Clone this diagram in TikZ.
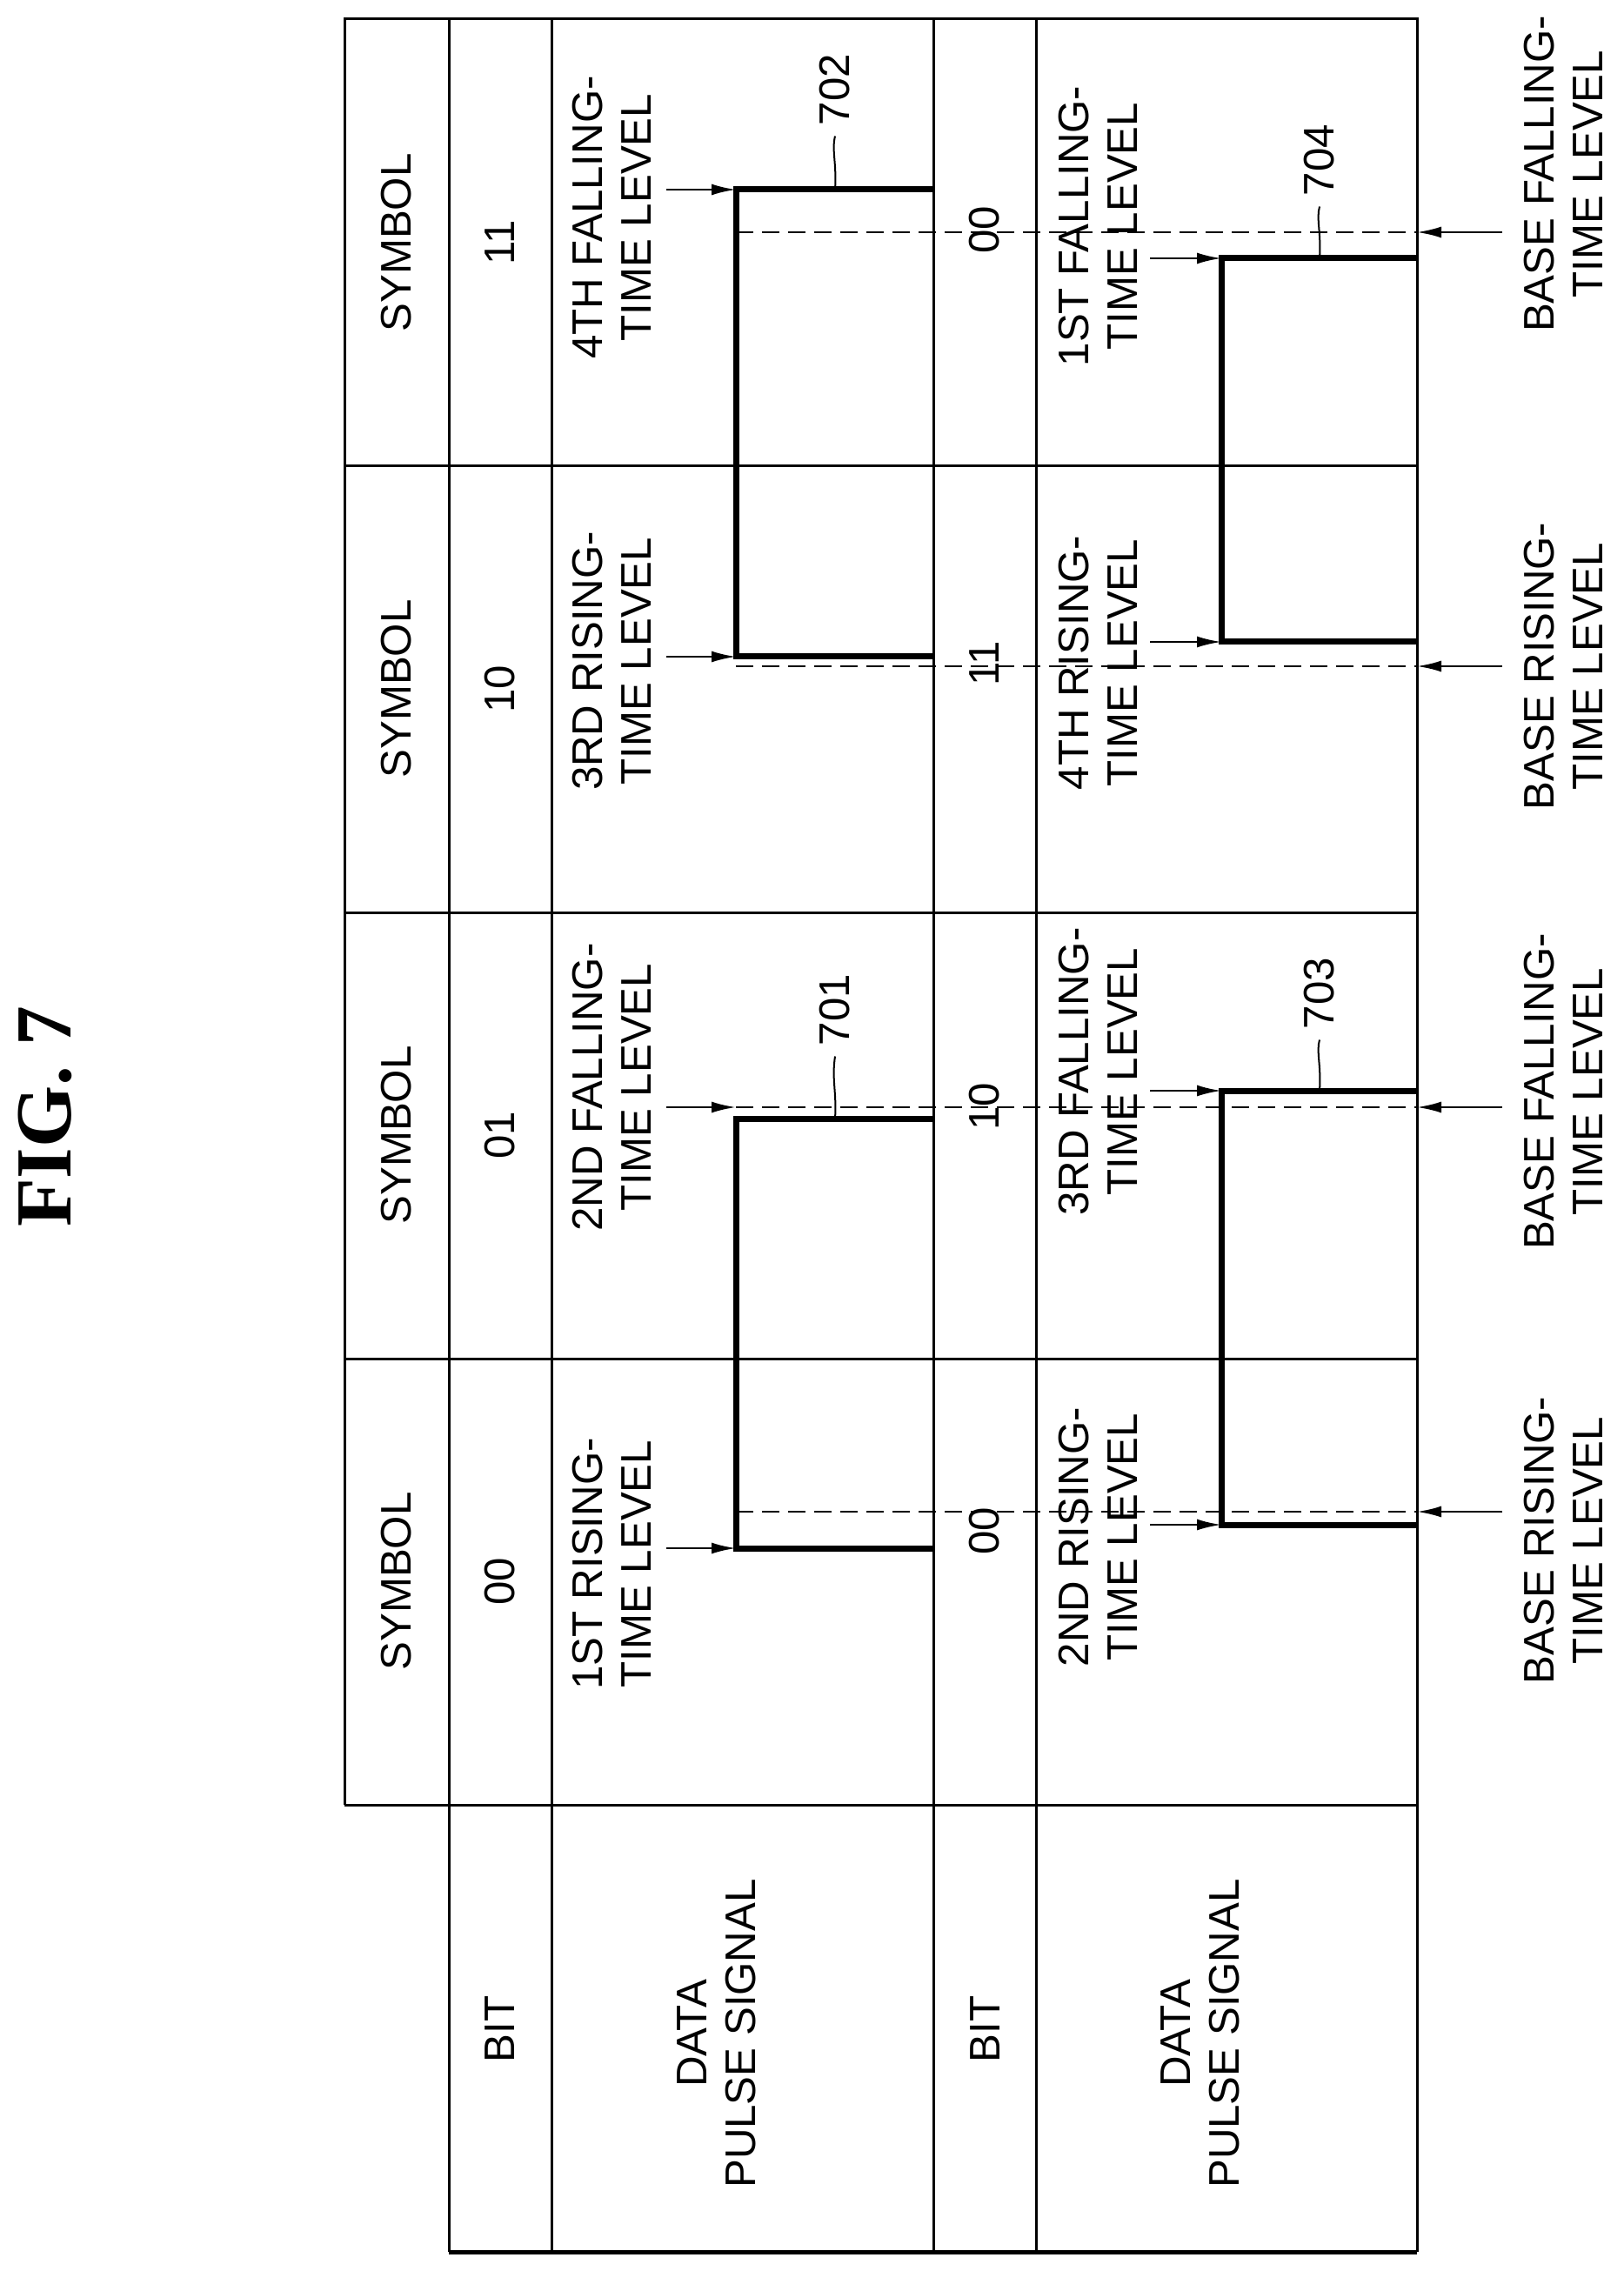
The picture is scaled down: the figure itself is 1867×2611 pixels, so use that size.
\documentclass[tikz,border=0pt]{standalone}
\usepackage{fontspec}
\setmainfont{Liberation Sans}
\newfontfamily\figfont{Liberation Serif}
\usetikzlibrary{arrows.meta}

\begin{document}
\begin{tikzpicture}[x=0.1mm, y=-0.1mm,
    lbl/.style={rotate=90, align=center, font=\fontsize{14}{16}\selectfont},
    grid/.style={line width=0.3mm},
    pulse/.style={line width=0.7mm},
    level/.style={dashed, line width=0.2mm, dash pattern=on 2mm off 1mm},
    tick/.style={line width=0.25mm, -{Latex[length=2.8mm, width=1.3mm]}},
    lead/.style={line width=0.2mm}]
  \useasboundingbox (0, 0) rectangle (1867, 2611);
  %
  \node[rotate=90, font=\figfont\bfseries\fontsize{26}{30}\selectfont] (fig) at (52, 1284) {FIG. 7};
  %
  % table
  \draw[grid] (396, 2075) -- (396, 22) -- (1629, 22) -- (1629, 2589);
  \draw[line width=0.5mm] (516, 2589) -- (1629, 2589);
  \foreach \x in {516, 634, 1073, 1191}
    \draw[grid] (\x, 22) -- (\x, 2589);
  \foreach \y in {536, 1049, 1562, 2075}
    \draw[grid] (396, \y) -- (1629, \y);
  %
  % row heads
  \node[lbl] (bitA) at (575, 2333) {BIT};
  \node[lbl] (dataA) at (824, 2338) {DATA\\PULSE SIGNAL};
  \node[lbl] (bitB) at (1133, 2333) {BIT};
  \node[lbl] (dataB) at (1380, 2338) {DATA\\PULSE SIGNAL};
  %
  % symbols and bits
  \foreach \yc/\b [count=\i] in {1818/00, 1305/01, 792/10, 279/11} {
    \node[lbl] (sym \i) at (456, \yc) {SYMBOL};
    \node[lbl] (bit \i) at (575, \yc) {\b};
  }
  \foreach \yc/\b [count=\i] in {1760/00, 1272/10, 763/11, 264/00}
    \node[lbl] (bitb \i) at (1132, \yc) {\b};
  %
  % base levels
  \foreach \yc [count=\i] in {1738, 1273, 766, 267} {
    \coordinate (base \i) at (1629, \yc);
    \coordinate (bstart \i) at (846, \yc);
    \coordinate (btail \i) at (1727, \yc);
    \draw[level] (bstart \i) -- (base \i);
    \draw[tick] (btail \i) -- (base \i);
  }
  \node[lbl] (brise A) at (1797, 1771) {BASE RISING-\\TIME LEVEL};
  \node[lbl] (bfall A) at (1797, 1255) {BASE FALLING-\\TIME LEVEL};
  \node[lbl] (brise B) at (1797, 766) {BASE RISING-\\TIME LEVEL};
  \node[lbl] (bfall B) at (1797, 200) {BASE FALLING-\\TIME LEVEL};
  %
  % pulses 701 / 702
  \draw[pulse] (1073, 1780) -- (846, 1780) -- (846, 1286) -- (1073, 1286);
  \draw[pulse] (1073, 755) -- (846, 755) -- (846, 218) -- (1073, 218);
  % pulses 703 / 704
  \draw[pulse] (1629, 1753) -- (1404, 1753) -- (1404, 1254) -- (1629, 1254);
  \draw[pulse] (1629, 738) -- (1404, 738) -- (1404, 297) -- (1629, 297);
  %
  % level arrows
  \foreach \yc [count=\i] in {1780, 1273, 755, 218} {
    \coordinate (ta \i) at (766, \yc);
    \coordinate (ha \i) at (846, \yc);
    \draw[tick] (ta \i) -- (ha \i);
  }
  \foreach \yc [count=\i] in {1753, 1254, 738, 297} {
    \coordinate (tb \i) at (1322, \yc);
    \coordinate (hb \i) at (1404, \yc);
    \draw[tick] (tb \i) -- (hb \i);
  }
  \node[lbl] (lvl 1) at (703, 1798) {1ST RISING-\\TIME LEVEL};
  \node[lbl] (lvl 2) at (703, 1250) {2ND FALLING-\\TIME LEVEL};
  \node[lbl] (lvl 3) at (703, 760) {3RD RISING-\\TIME LEVEL};
  \node[lbl] (lvl 4) at (703, 250) {4TH FALLING-\\TIME LEVEL};
  \node[lbl] (lvl 5) at (1262, 1767) {2ND RISING-\\TIME LEVEL};
  \node[lbl] (lvl 6) at (1262, 1232) {3RD FALLING-\\TIME LEVEL};
  \node[lbl] (lvl 7) at (1262, 762) {4TH RISING-\\TIME LEVEL};
  \node[lbl] (lvl 8) at (1262, 260) {1ST FALLING-\\TIME LEVEL};
  %
  % reference numerals
  \foreach \xc/\yp/\yt/\num in {960/1286/1161/701, 960/218/103/702,
                               1517/1254/1142/703, 1517/297/184/704} {
    \node[lbl] (ref \num) at (\xc, \yt) {\num};
    \draw[lead] (\xc, \yp) .. controls (\xc+2, \yp-30) and (\xc-4, \yp-45) .. (ref \num.west);
  }
\end{tikzpicture}
\end{document}
